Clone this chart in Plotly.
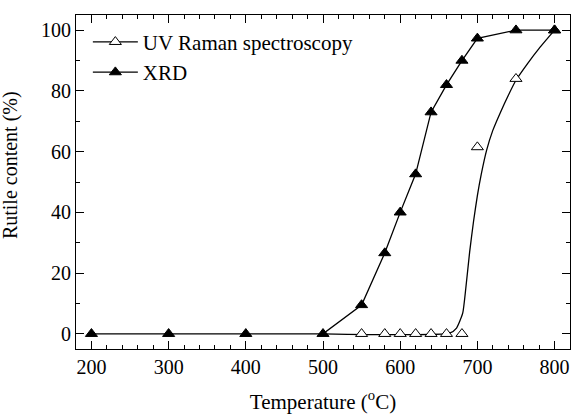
import plotly.graph_objects as go

# XRD data
xrd_temp = [200, 300, 400, 500, 550, 580, 600, 620, 640, 660, 680, 700, 750, 800]
xrd_rutile = [0, 0, 0, 0, 9.5, 26.6, 40, 52.6, 73, 82, 90, 97.3, 100, 100]

# UV Raman data points
raman_temp = [550, 580, 600, 620, 640, 660, 680, 700, 750, 800]
raman_rutile = [0, 0, 0, 0, 0, 0, 0, 61.5, 84, 100]

# UV Raman fitted curve
fit_temp = [500, 664, 673, 681, 685, 690, 695, 700, 705, 712, 720, 730, 740, 750, 765, 780, 800]
fit_rutile = [0, 0.2, 1.9, 6.8, 15.0, 27.0, 37.0, 45.5, 52.5, 60.5, 67.0, 73.0, 78.5, 83.5, 89.0, 94.0, 100]

FONT = "Liberation Serif, Times New Roman, serif"

fig = go.Figure()

# Raman fitted line
fig.add_trace(go.Scatter(x=fit_temp, y=fit_rutile, mode="lines",
                         line=dict(color="black", width=1.3, shape="spline", smoothing=0.5),
                         showlegend=False, hoverinfo="skip"))
# Raman markers
fig.add_trace(go.Scatter(x=raman_temp, y=raman_rutile, mode="markers",
                         marker=dict(symbol="triangle-up", size=10.5, color="white",
                                     line=dict(color="black", width=1)),
                         showlegend=False))
# Legend entry for Raman
fig.add_trace(go.Scatter(x=[None], y=[None], mode="lines+markers", name="UV Raman spectroscopy",
                         line=dict(color="black", width=1.3),
                         marker=dict(symbol="triangle-up", size=10.5, color="white",
                                     line=dict(color="black", width=1))))
# XRD
fig.add_trace(go.Scatter(x=xrd_temp, y=xrd_rutile, mode="lines+markers", name="XRD",
                         line=dict(color="black", width=1.3),
                         marker=dict(symbol="triangle-up", size=10.5, color="black",
                                     line=dict(color="black", width=1))))

axis_common = dict(showline=True, linecolor="black", linewidth=1.2, mirror="allticks",
                   ticks="inside", ticklen=8, tickwidth=1, tickcolor="black",
                   showgrid=False, zeroline=False,
                   tickfont=dict(family=FONT, size=20, color="black"))

fig.update_layout(
    width=571, height=414,
    margin=dict(l=76, r=1, t=15, b=65),
    paper_bgcolor="white", plot_bgcolor="white",
    font=dict(family=FONT, color="black"),
    xaxis=dict(range=[180, 820], tickvals=[200, 300, 400, 500, 600, 700, 800],
               minor=dict(dtick=20, tick0=0, ticks="inside", ticklen=4, tickcolor="black"),
               title=dict(text="Temperature (<sup>o</sup>C)", font=dict(family=FONT, size=21, color="black"),
                          standoff=17),
               **axis_common),
    yaxis=dict(range=[-5, 105], tickvals=[0, 20, 40, 60, 80, 100],
               minor=dict(dtick=10, tick0=0, ticks="inside", ticklen=4, tickcolor="black"),
               **axis_common),
    legend=dict(x=0.024, y=0.98, xanchor="left", yanchor="top", bgcolor="rgba(0,0,0,0)",
                font=dict(family=FONT, size=21, color="black"), itemwidth=45,
                tracegroupgap=0),
    showlegend=True,
    annotations=[dict(text="Rutile content (%)", textangle=-90, xref="paper", yref="paper",
                      x=-0.132, y=0.55, xanchor="center", yanchor="middle", showarrow=False,
                      font=dict(family=FONT, size=20, color="black"))],
)

fig.write_html("out.html")
